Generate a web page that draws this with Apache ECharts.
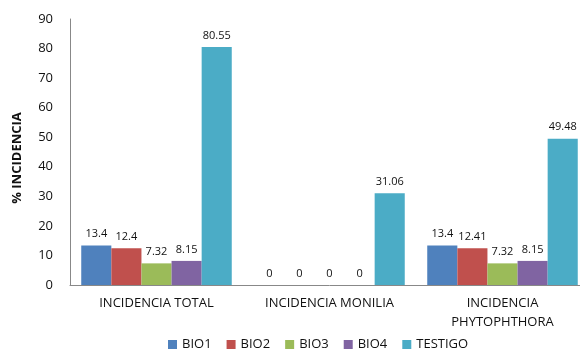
<!DOCTYPE html>
<html>
<head>
<meta charset="utf-8">
<script src="https://cdn.jsdelivr.net/npm/echarts@6/dist/echarts.min.js"></script>
<style>
  html, body { margin: 0; padding: 0; background: #fff; overflow: hidden; }
  #chart { width: 590px; height: 352px; }
</style>
</head>
<body>
<div id="chart"></div>
<script>
// Categories and values per treatment
const categories = ['INCIDENCIA TOTAL', 'INCIDENCIA MONILIA', 'INCIDENCIA\nPHYTOPHTHORA'];
const seriesNames = ['BIO1', 'BIO2', 'BIO3', 'BIO4', 'TESTIGO'];
const bio1 = [13.4, 0, 13.4];
const bio2 = [12.4, 0, 12.41];
const bio3 = [7.32, 0, 7.32];
const bio4 = [8.15, 0, 8.15];
const testigo = [80.55, 31.06, 49.48];
const yTicks = [0, 10, 20, 30, 40, 50, 60, 70, 80, 90];

const values = [bio1, bio2, bio3, bio4, testigo];
const colors = ['#4F81BD', '#C0504D', '#9BBB59', '#8064A2', '#4BACC6'];
const font = 'Open Sans';

const chart = echarts.init(document.getElementById('chart'));
chart.setOption({
  animation: false,
  textStyle: { fontFamily: font },
  grid: { left: 70, top: 19, width: 519, height: 266 },
  legend: {
    top: 338,
    left: 168,
    padding: 0,
    itemWidth: 9,
    itemHeight: 9,
    itemGap: 15,
    icon: 'rect',
    textStyle: { fontSize: 13, color: '#111', fontFamily: font },
    data: seriesNames
  },
  xAxis: {
    type: 'category',
    data: categories,
    axisLine: { lineStyle: { color: '#888' } },
    axisTick: { show: false },
    axisLabel: { fontSize: 13, color: '#111', margin: 9, lineHeight: 19, interval: 0 }
  },
  yAxis: {
    type: 'value',
    min: yTicks[0],
    max: yTicks[yTicks.length - 1],
    interval: 10,
    name: '% INCIDENCIA',
    nameLocation: 'middle',
    nameGap: 46,
    nameTextStyle: { fontSize: 13, fontWeight: 'bold', color: '#111', padding: [0, 12, 0, 0] },
    axisLine: { show: true, lineStyle: { color: '#888' } },
    axisTick: { show: false },
    splitLine: { show: false },
    axisLabel: { fontSize: 13, color: '#111', margin: 17 }
  },
  series: seriesNames.map((name, i) => ({
    name: name,
    type: 'bar',
    data: values[i],
    barGap: '0%',
    barCategoryGap: '13%',
    itemStyle: { color: colors[i] },
    label: {
      show: true,
      position: 'top',
      distance: 6,
      fontSize: 11,
      color: '#111'
    }
  }))
});
</script>
</body>
</html>
